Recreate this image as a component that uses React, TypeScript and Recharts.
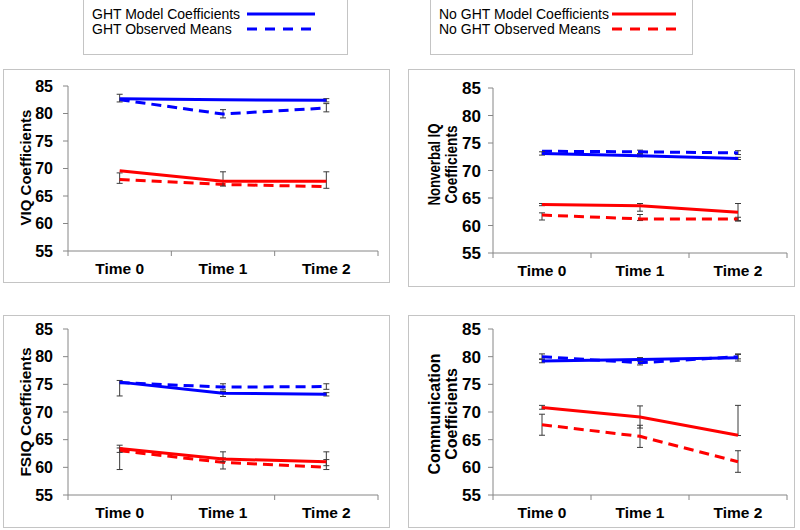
import React from 'react';
import { LineChart, Line, XAxis, YAxis, ErrorBar, Label } from 'recharts';

const categories = ['Time 0', 'Time 1', 'Time 2'];
const yTicks = [55, 60, 65, 70, 75, 80, 85];

type Err = [number, number] | null;

// VIQ
const viqGhtModel = [82.7, 82.5, 82.4];
const viqGhtObserved = [82.5, 79.9, 81.0];
const viqNoGhtModel = [69.6, 67.7, 67.7];
const viqNoGhtObserved = [68.0, 67.1, 66.7];
const viqGhtModelErr: Err[] = [[0.6, 0.8], null, [0.3, 0.3]];
const viqGhtObservedErr: Err[] = [null, [0.7, 0.8], [0.7, 0.8]];
const viqNoGhtModelErr: Err[] = [null, [0.9, 1.7], [1.3, 1.7]];
const viqNoGhtObservedErr: Err[] = [[0.7, 1.2], null, null];

// Nonverbal IQ
const nvGhtModel = [73.1, 72.7, 72.2];
const nvGhtObserved = [73.5, 73.4, 73.2];
const nvNoGhtModel = [63.8, 63.6, 62.4];
const nvNoGhtObserved = [61.9, 61.2, 61.2];
const nvGhtModelErr: Err[] = [[0.3, 0.3], [0.2, 0.2], [0.2, 0.2]];
const nvGhtObservedErr: Err[] = [null, [0.3, 0.3], [0.3, 0.4]];
const nvNoGhtModelErr: Err[] = [[0.2, 0.2], [1.0, 0.4], [1.6, 1.6]];
const nvNoGhtObservedErr: Err[] = [[0.9, 0.4], [0.3, 0.8], [0.3, 0.3]];

// FSIQ
const fsGhtModel = [75.4, 73.4, 73.2];
const fsGhtObserved = [75.3, 74.5, 74.6];
const fsNoGhtModel = [63.4, 61.5, 61.0];
const fsNoGhtObserved = [63.0, 60.9, 60.0];
const fsGhtModelErr: Err[] = [[2.5, 0.3], [0.6, 0.3], [0.3, 0.3]];
const fsGhtObservedErr: Err[] = [null, [0.5, 0.6], [0.5, 0.5]];
const fsNoGhtModelErr: Err[] = [[0.7, 0.6], [0.5, 1.3], [0.7, 1.8]];
const fsNoGhtObservedErr: Err[] = [[3.4, 0.5], [1.2, 0.8], [0.4, 1.4]];

// Communication
const cmGhtModel = [79.2, 79.5, 79.8];
const cmGhtObserved = [80.0, 78.9, 80.0];
const cmNoGhtModel = [70.8, 69.1, 65.8];
const cmNoGhtObserved = [67.7, 65.6, 61.0];
const cmGhtModelErr: Err[] = [[0.3, 0.3], [0.3, 0.3], [0.6, 0.6]];
const cmGhtObservedErr: Err[] = [[0.4, 0.5], [0.4, 0.9], [0.4, 0.5]];
const cmNoGhtModelErr: Err[] = [[0.3, 0.4], [2.0, 2.0], [0.05, 5.4]];
const cmNoGhtObservedErr: Err[] = [[1.9, 1.9], [2.0, 2.0], [1.9, 2.0]];

const BLUE = '#0000FF';
const RED = '#FF0000';
const AXIS = '#868686';
const ERR = '#3a3a3a';
const FONT = '"Liberation Sans", Arial, sans-serif';

function buildRows(
  gm: number[], go: number[], nm: number[], no: number[],
  gmE: Err[], goE: Err[], nmE: Err[], noE: Err[]
) {
  return categories.map((c, i) => ({
    name: c,
    x: i + 0.5,
    gm: gm[i], go: go[i], nm: nm[i], no: no[i],
    gmE: gmE[i], goE: goE[i], nmE: nmE[i], noE: noE[i],
  }));
}

type PanelProps = {
  rows: any[];
  left: number; top: number; width: number; height: number;
  margin: { top: number; right: number; bottom: number; left: number };
  yWidth: number;
  tickMargin: number;
  yTickSize: number;
  titleLines: string[];
  titleOffsets: number[];
  titleSize: number;
  titleShift: number;
  titleLengths?: number[];
};

function Panel(p: PanelProps) {
  const renderTitle = (props: any) => {
    const vb = props.viewBox || {};
    const cy = vb.y + vb.height / 2 + p.titleShift;
    return (
      <g>
        {p.titleLines.map((l, i) => {
          const x = vb.x + p.titleOffsets[i];
          const extra = p.titleLengths
            ? { textLength: p.titleLengths[i], lengthAdjust: 'spacingAndGlyphs' }
            : {};
          return (
            <text
              key={i}
              x={x}
              y={cy}
              transform={`rotate(-90 ${x} ${cy})`}
              textAnchor="middle"
              dominantBaseline="central"
              fontFamily={FONT}
              fontWeight="bold"
              fontSize={p.titleSize}
              fill="#000"
              {...(extra as any)}
            >
              {l}
            </text>
          );
        })}
      </g>
    );
  };
  const errProps = { stroke: ERR, strokeWidth: 1, width: 3, direction: 'y' as const };
  return (
    <>
      <div
        style={{
          position: 'absolute', left: p.left, top: p.top, width: p.width, height: p.height,
          boxSizing: 'border-box', border: '1px solid #c4c4c4',
        }}
      />
      <div style={{ position: 'absolute', left: p.left, top: p.top }}>
        <LineChart width={p.width} height={p.height} data={p.rows} margin={p.margin}>
          <XAxis
            xAxisId="a_grid"
            dataKey="x"
            type="number"
            domain={[0, 3]}
            ticks={[0, 1, 2, 3]}
            tickFormatter={() => ''}
            height={1}
            tickSize={5}
            stroke={AXIS}
            allowDataOverflow
          />
          <XAxis
            xAxisId="b_cat"
            dataKey="x"
            type="number"
            domain={[0, 3]}
            ticks={[0.5, 1.5, 2.5]}
            tickFormatter={(v: number) => categories[Math.floor(v)]}
            axisLine={false}
            tickLine={false}
            height={30}
            tickMargin={5}
            tick={{ fontFamily: FONT, fontWeight: 'bold', fontSize: 15.5, fill: '#000' }}
          />
          <YAxis
            type="number"
            domain={[55, 85]}
            ticks={yTicks}
            width={p.yWidth}
            tickSize={5}
            tickMargin={p.tickMargin}
            stroke={AXIS}
            tick={{ fontFamily: FONT, fontWeight: 'bold', fontSize: p.yTickSize, fill: '#000' }}
            allowDataOverflow
          >
            <Label content={renderTitle} />
          </YAxis>
          <Line xAxisId="b_cat" dataKey="no" stroke={RED} strokeWidth={3} strokeDasharray="10 6" dot={false} isAnimationActive={false}>
            <ErrorBar dataKey="noE" {...errProps} />
          </Line>
          <Line xAxisId="b_cat" dataKey="nm" stroke={RED} strokeWidth={3} dot={false} isAnimationActive={false}>
            <ErrorBar dataKey="nmE" {...errProps} />
          </Line>
          <Line xAxisId="b_cat" dataKey="go" stroke={BLUE} strokeWidth={3} strokeDasharray="10 6" dot={false} isAnimationActive={false}>
            <ErrorBar dataKey="goE" {...errProps} />
          </Line>
          <Line xAxisId="b_cat" dataKey="gm" stroke={BLUE} strokeWidth={3} dot={false} isAnimationActive={false}>
            <ErrorBar dataKey="gmE" {...errProps} />
          </Line>
        </LineChart>
      </div>
    </>
  );
}

function LegendBox(props: {
  left: number; width: number; color: string; labels: string[]; lineX: number[]; lineY: number[]; lineEnd: number[];
}) {
  const { left, width, color, labels, lineX, lineY, lineEnd } = props;
  return (
    <div
      style={{
        position: 'absolute', left, top: -2, width, height: 57,
        boxSizing: 'border-box', border: '1px solid #c4c4c4', background: '#fff',
      }}
    >
      <svg width={width} height={57} style={{ position: 'absolute', left: -1, top: -1 }}>
        {labels.map((l, i) => (
          <g key={i}>
            <text
              x={9}
              y={lineY[i] + 2}
              dominantBaseline="central"
              fontFamily={FONT}
              fontSize={14}
              fill="#000"
            >
              {l}
            </text>
            <line
              x1={lineX[i]}
              x2={lineEnd[i]}
              y1={lineY[i] + 2}
              y2={lineY[i] + 2}
              stroke={color}
              strokeWidth={3}
              strokeDasharray={i === 1 ? '10 8' : undefined}
            />
          </g>
        ))}
      </svg>
    </div>
  );
}

export default function App() {
  const viqRows = buildRows(viqGhtModel, viqGhtObserved, viqNoGhtModel, viqNoGhtObserved,
    viqGhtModelErr, viqGhtObservedErr, viqNoGhtModelErr, viqNoGhtObservedErr);
  const nvRows = buildRows(nvGhtModel, nvGhtObserved, nvNoGhtModel, nvNoGhtObserved,
    nvGhtModelErr, nvGhtObservedErr, nvNoGhtModelErr, nvNoGhtObservedErr);
  const fsRows = buildRows(fsGhtModel, fsGhtObserved, fsNoGhtModel, fsNoGhtObserved,
    fsGhtModelErr, fsGhtObservedErr, fsNoGhtModelErr, fsNoGhtObservedErr);
  const cmRows = buildRows(cmGhtModel, cmGhtObserved, cmNoGhtModel, cmNoGhtObserved,
    cmGhtModelErr, cmGhtObservedErr, cmNoGhtModelErr, cmNoGhtObservedErr);

  return (
    <div style={{ position: 'absolute', left: 0, top: 0, width: 800, height: 530, background: '#fff', overflow: 'hidden', fontFamily: FONT }}>
      <LegendBox
        left={83} width={265} color={BLUE}
        labels={['GHT Model Coefficients', 'GHT Observed Means']}
        lineX={[164, 164]} lineEnd={[232, 228]} lineY={[14, 29]}
      />
      <LegendBox
        left={430} width={263} color={RED}
        labels={['No GHT Model Coefficients', 'No GHT Observed Means']}
        lineX={[182, 182]} lineEnd={[246, 252]} lineY={[14, 29]}
      />
      <Panel
        rows={viqRows} left={3} top={69} width={387} height={214}
        margin={{ top: 17, right: 12, bottom: 1, left: 5 }} yWidth={60} tickMargin={10} yTickSize={16}
        titleLines={['VIQ Coefficients']} titleOffsets={[17]} titleSize={15} titleShift={-1}
      />
      <Panel
        rows={nvRows} left={408} top={69} width={387} height={218}
        margin={{ top: 19, right: 8, bottom: 3, left: 5 }} yWidth={80} tickMargin={7} yTickSize={17}
        titleLines={['Nonverbal IQ', 'Coefficients']} titleOffsets={[21, 38]} titleSize={16}
        titleShift={-6} titleLengths={[82, 78]}
      />
      <Panel
        rows={fsRows} left={3} top={315} width={387} height={213}
        margin={{ top: 14, right: 12, bottom: 2, left: 5 }} yWidth={60} tickMargin={10} yTickSize={16}
        titleLines={['FSIQ Coefficients']} titleOffsets={[17]} titleSize={15.5} titleShift={0}
      />
      <Panel
        rows={cmRows} left={408} top={315} width={387} height={213}
        margin={{ top: 14, right: 8, bottom: 2, left: 5 }} yWidth={80} tickMargin={7} yTickSize={17}
        titleLines={['Communication', 'Coefficients']} titleOffsets={[21, 38]} titleSize={16}
        titleShift={2}
      />
    </div>
  );
}
